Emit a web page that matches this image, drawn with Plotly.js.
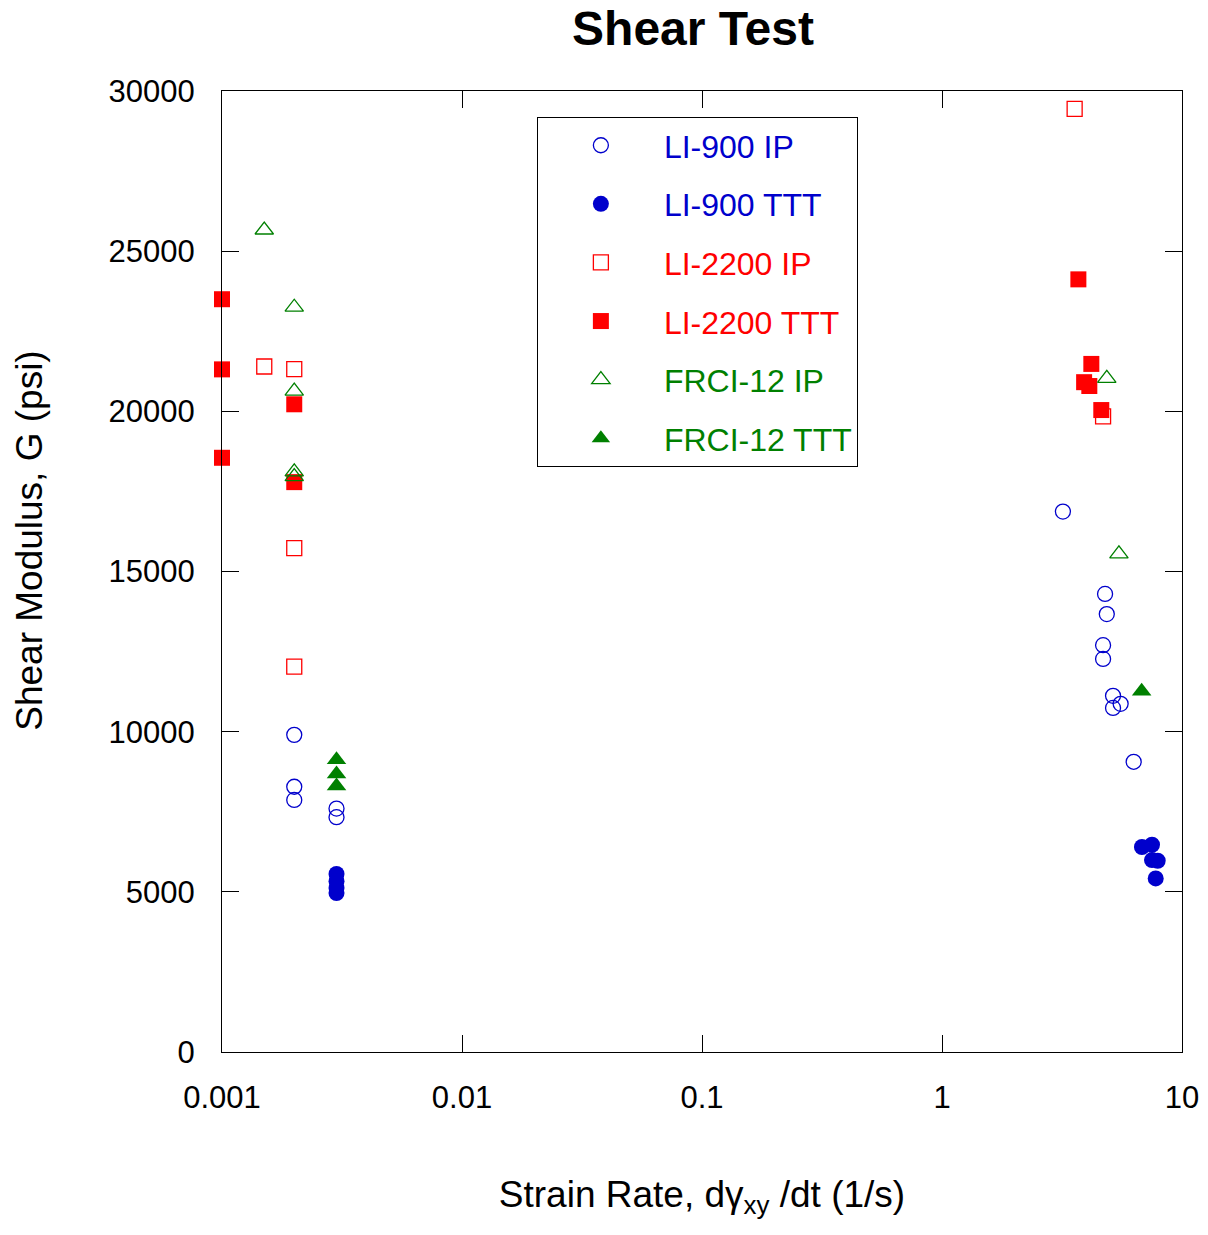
<!DOCTYPE html>
<html>
<head>
<meta charset="utf-8">
<script src="https://cdn.plot.ly/plotly-3.0.1.min.js"></script>
<style>body{margin:0;padding:0;background:#fff;} #chart{width:1208px;height:1235px;}</style>
</head>
<body>
<div id="chart"></div>
<script>
// ---- data ----
const seriesNames = ['LI-900 IP', 'LI-900 TTT', 'LI-2200 IP', 'LI-2200 TTT', 'FRCI-12 IP', 'FRCI-12 TTT'];

const li900IP_x = [0.002, 0.002, 0.002, 0.003, 0.003, 3.19, 4.78, 4.86, 4.69, 4.69, 5.16, 5.55, 5.16, 6.29];
const li900IP_y = [9900, 8280, 7870, 7600, 7330, 16870, 14300, 13670, 12700, 12270, 11120, 10870, 10740, 9060];

const li900TTT_x = [0.003, 0.003, 0.003, 0.003, 6.81, 7.50, 7.50, 7.92, 7.77];
const li900TTT_y = [5560, 5330, 5120, 4960, 6400, 6470, 5990, 5970, 5420];

const li2200IP_x = [0.0015, 0.002, 0.002, 0.002, 3.57, 4.69];
const li2200IP_y = [21400, 21320, 15730, 12030, 29440, 19840];

const li2200TTT_x = [0.001, 0.001, 0.001, 0.002, 0.002, 3.70, 4.19, 3.91, 4.11, 4.61];
const li2200TTT_y = [23500, 21310, 18550, 20220, 17790, 24120, 21480, 20910, 20790, 20040];

const frci12IP_x = [0.0015, 0.002, 0.002, 0.002, 0.002, 4.86, 5.46];
const frci12IP_y = [25660, 23250, 20630, 18110, 17960, 21030, 15550];

const frci12TTT_x = [0.003, 0.003, 0.003, 6.79];
const frci12TTT_y = [9120, 8680, 8300, 11260];

const xTickVals = [0.001, 0.01, 0.1, 1, 10];
const xTickText = ['0.001', '0.01', '0.1', '1', '10'];
const yTickVals = [0, 5000, 10000, 15000, 20000, 25000, 30000];
const yTickText = ['0', '5000', '10000', '15000', '20000', '25000', '30000'];

const titleText = 'Shear Test';
const xTitleText = 'Strain Rate, d\u03b3<sub>xy</sub> /dt (1/s)';
const yTitleText = 'Shear Modulus, G (psi)';

// ---- styles ----
const BLUE = '#0000cc', RED = '#ff0000', GREEN = '#008000';
const FONT = 'Liberation Sans, Arial, sans-serif';

function lbl(name, color) { return '<span style="color:' + color + '">' + name + '</span>'; }

function tr(x, y, i, color, symbol, size, open) {
  return {
    type: 'scatter', mode: 'markers', x: x, y: y,
    name: lbl(seriesNames[i], color), legendgroup: 'g' + i,
    cliponaxis: false,
    marker: {
      symbol: symbol, size: size,
      color: open ? 'rgba(0,0,0,0)' : color,
      line: { color: color, width: open ? 1.3 : 0 }
    },
    hoverinfo: 'x+y'
  };
}

const traces = [
  tr(li900IP_x, li900IP_y, 0, BLUE, 'circle', 15, true),
  tr(li900TTT_x, li900TTT_y, 1, BLUE, 'circle', 16, false),
  tr(li2200IP_x, li2200IP_y, 2, RED, 'square', 15, true),
  tr(li2200TTT_x, li2200TTT_y, 3, RED, 'square', 16, false),
  tr(frci12IP_x, frci12IP_y, 4, GREEN, 'triangle-up', 16, true),
  tr(frci12TTT_x, frci12TTT_y, 5, GREEN, 'triangle-up', 17, false)
];

const layout = {
  width: 1208, height: 1235,
  margin: { l: 222, r: 26, t: 91, b: 183 },
  paper_bgcolor: '#fff', plot_bgcolor: '#fff',
  font: { family: FONT, color: '#000', size: 32 },
  title: { text: '<b>' + titleText + '</b>', font: { family: FONT, size: 48, color: '#000' }, x: 0.5737, xanchor: 'center', y: 0.977, yanchor: 'middle' },
  showlegend: true,
  legend: {
    x: 0.328, y: 0.973, xanchor: 'left', yanchor: 'top',
    bgcolor: '#fff', bordercolor: '#000', borderwidth: 1,
    font: { family: FONT, size: 32 },
    traceorder: 'grouped', tracegroupgap: 14, itemwidth: 116
  },
  xaxis: {
    type: 'log', range: [-3, 1],
    tickvals: xTickVals, ticktext: xTickText,
    ticks: 'inside', ticklen: 17, tickwidth: 1, tickcolor: '#000',
    showline: true, linecolor: '#000', linewidth: 1, mirror: 'ticks',
    showgrid: false, zeroline: false,
    tickfont: { family: FONT, size: 31, color: '#000' },
    ticklabelstandoff: 18,
    title: { text: xTitleText, font: { family: FONT, size: 37, color: '#000' }, standoff: 66 }
  },
  yaxis: {
    range: [0, 30000],
    tickvals: yTickVals, ticktext: yTickText,
    ticks: 'inside', ticklen: 17, tickwidth: 1, tickcolor: '#000',
    showline: true, linecolor: '#000', linewidth: 1, mirror: 'ticks',
    showgrid: false, zeroline: false,
    tickfont: { family: FONT, size: 31, color: '#000' },
    ticklabelstandoff: 20
  },
  annotations: [{
    text: yTitleText, textangle: -90,
    xref: 'paper', yref: 'paper', x: -0.2, y: 0.532,
    xanchor: 'center', yanchor: 'middle', showarrow: false,
    font: { family: FONT, size: 37, color: '#000' }
  }]
};

Plotly.newPlot('chart', traces, layout, { displayModeBar: false, staticPlot: true });
</script>
</body>
</html>
